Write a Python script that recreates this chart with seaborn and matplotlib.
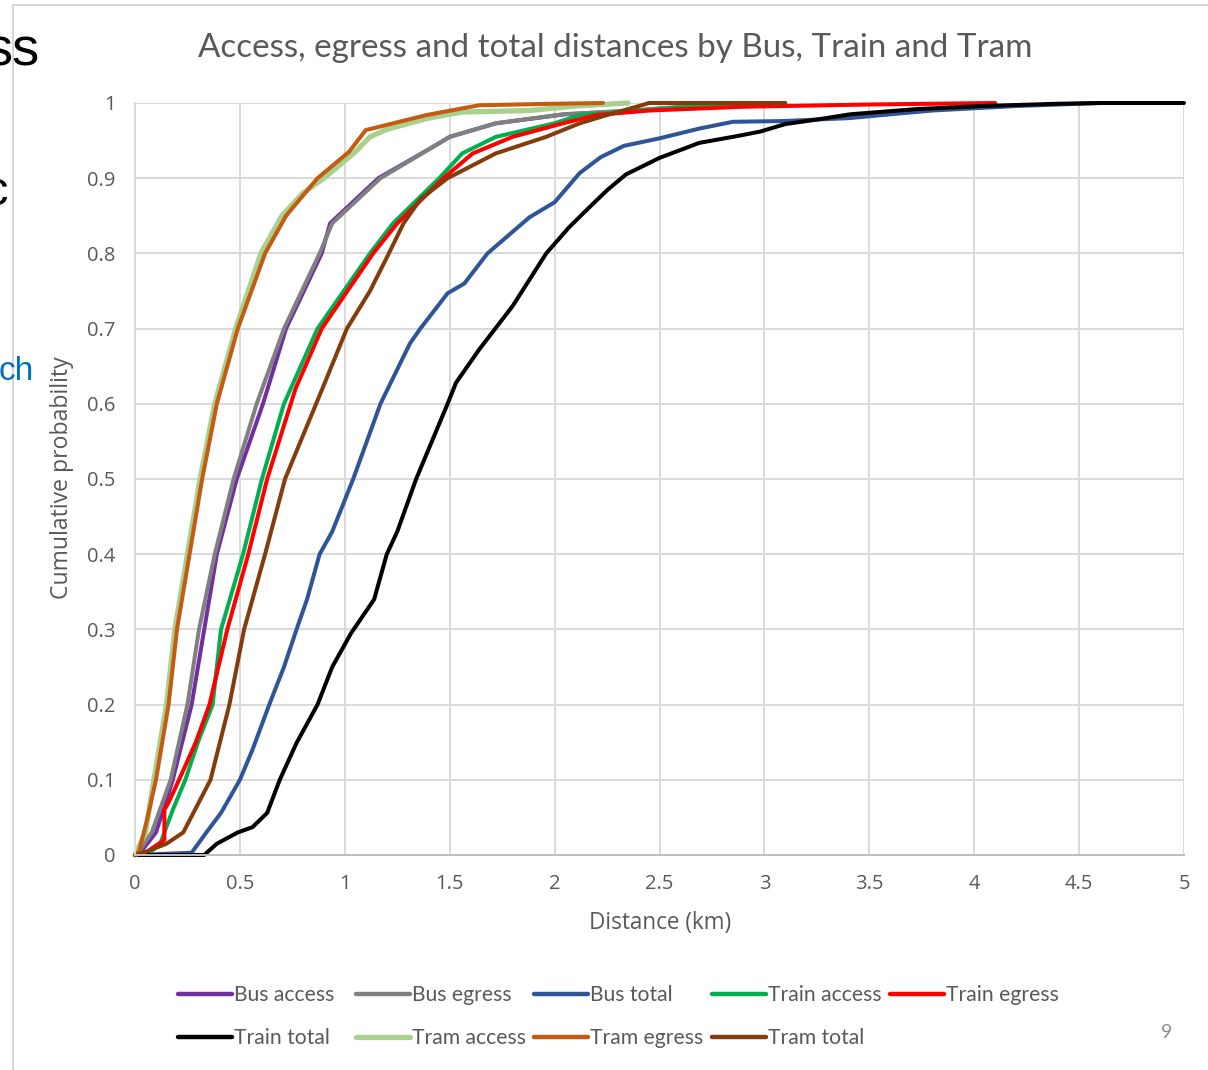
import numpy as np
import pandas as pd
import matplotlib
matplotlib.use("Agg")
import matplotlib.pyplot as plt
import matplotlib.font_manager as fm
from matplotlib.lines import Line2D
import seaborn as sns

# ---------------- data ----------------
title = "Access, egress and total distances by Bus, Train and Tram"
x_label = "Distance (km)"
y_label = "Cumulative probability"

series_names = ["Bus access", "Bus egress", "Bus total",
                "Train access", "Train egress", "Train total",
                "Tram access", "Tram egress", "Tram total"]
series_colors = ["#7030A0", "#808080", "#2F5597",
                 "#00B050", "#FF0000", "#000000",
                 "#A9D18E", "#C55A11", "#843C0C"]

bus_access_x = [0, 0.03, 0.10, 0.18, 0.27, 0.33, 0.39, 0.485, 0.61, 0.72, 0.89, 0.93, 1.16, 1.41, 1.50, 1.72, 2.05, 2.40, 2.70, 2.90]
bus_access_y = [0, 0.005, 0.03, 0.10, 0.20, 0.30, 0.40, 0.50, 0.60, 0.70, 0.80, 0.84, 0.90, 0.94, 0.955, 0.973, 0.985, 0.99, 0.996, 1.0]

bus_egress_x = [0, 0.02, 0.08, 0.17, 0.25, 0.305, 0.38, 0.47, 0.58, 0.71, 0.88, 0.94, 1.17, 1.41, 1.50, 1.72, 2.04, 2.36, 2.65, 2.85]
bus_egress_y = [0, 0.005, 0.03, 0.10, 0.20, 0.30, 0.40, 0.50, 0.60, 0.70, 0.80, 0.84, 0.90, 0.94, 0.955, 0.973, 0.985, 0.99, 0.996, 1.0]

bus_total_x = [0, 0.27, 0.34, 0.41, 0.50, 0.56, 0.64, 0.71, 0.77, 0.82, 0.88, 0.94, 1.04, 1.17, 1.31, 1.36, 1.49, 1.57, 1.68, 1.88,
               2.00, 2.12, 2.22, 2.33, 2.50, 2.69, 2.85, 3.09, 3.25, 3.41, 3.60, 3.80, 4.20, 4.60]
bus_total_y = [0, 0.003, 0.03, 0.056, 0.10, 0.14, 0.20, 0.25, 0.30, 0.34, 0.40, 0.43, 0.50, 0.60, 0.68, 0.70, 0.747, 0.76, 0.80, 0.848,
               0.868, 0.907, 0.928, 0.943, 0.953, 0.966, 0.975, 0.976, 0.978, 0.980, 0.985, 0.990, 0.996, 1.0]

train_access_x = [0, 0.07, 0.12, 0.18, 0.24, 0.30, 0.37, 0.41, 0.515, 0.605, 0.71, 0.87, 1.12, 1.23, 1.45, 1.56, 1.72, 2.00, 2.12, 2.40, 2.70, 2.95]
train_access_y = [0, 0.003, 0.015, 0.06, 0.10, 0.15, 0.20, 0.30, 0.40, 0.50, 0.60, 0.70, 0.80, 0.84, 0.90, 0.933, 0.955, 0.973, 0.984, 0.99, 0.996, 1.0]

train_egress_x = [0, 0.05, 0.14, 0.14, 0.16, 0.21, 0.29, 0.355, 0.44, 0.54, 0.63, 0.765, 0.89, 1.135, 1.25, 1.47, 1.61, 1.80, 2.04, 2.20, 2.45, 2.90, 3.50, 4.10]
train_egress_y = [0, 0.003, 0.02, 0.06, 0.07, 0.10, 0.15, 0.20, 0.30, 0.40, 0.50, 0.62, 0.70, 0.80, 0.84, 0.90, 0.933, 0.955, 0.973, 0.984, 0.99, 0.995, 0.998, 1.0]

train_total_x = [0, 0.33, 0.39, 0.49, 0.56, 0.63, 0.69, 0.77, 0.87, 0.94, 1.03, 1.14, 1.20, 1.25, 1.34, 1.40, 1.49, 1.53, 1.64, 1.80,
                 1.96, 2.07, 2.15, 2.25, 2.34, 2.50, 2.69, 2.87, 2.98, 3.10, 3.25, 3.41, 3.73, 4.04, 4.40, 4.60, 5.00]
train_total_y = [0, 0, 0.015, 0.03, 0.037, 0.056, 0.10, 0.149, 0.20, 0.25, 0.295, 0.34, 0.40, 0.43, 0.50, 0.54, 0.60, 0.628, 0.672, 0.73,
                 0.80, 0.835, 0.857, 0.884, 0.905, 0.927, 0.947, 0.956, 0.962, 0.972, 0.978, 0.985, 0.992, 0.996, 0.999, 1.0, 1.0]

tram_access_x = [0, 0.05, 0.09, 0.15, 0.19, 0.25, 0.31, 0.38, 0.48, 0.60, 0.70, 0.80, 0.90, 1.05, 1.12, 1.20, 1.40, 1.56, 1.88, 2.10, 2.35]
tram_access_y = [0, 0.03, 0.10, 0.20, 0.30, 0.40, 0.50, 0.60, 0.70, 0.80, 0.85, 0.88, 0.90, 0.935, 0.955, 0.965, 0.98, 0.988, 0.99, 0.996, 1.0]

tram_egress_x = [0, 0.02, 0.06, 0.10, 0.16, 0.20, 0.26, 0.32, 0.39, 0.45, 0.49, 0.62, 0.72, 0.87, 1.02, 1.10, 1.39, 1.64, 2.00, 2.23]
tram_egress_y = [0, 0.005, 0.05, 0.10, 0.20, 0.30, 0.40, 0.50, 0.60, 0.66, 0.70, 0.80, 0.85, 0.90, 0.935, 0.964, 0.984, 0.997, 0.999, 1.0]

tram_total_x = [0, 0.04, 0.15, 0.23, 0.36, 0.45, 0.52, 0.62, 0.715, 0.89, 1.01, 1.12, 1.21, 1.28, 1.36, 1.49, 1.72, 1.96, 2.12, 2.25, 2.39, 2.45, 3.10]
tram_total_y = [0, 0.003, 0.015, 0.03, 0.10, 0.20, 0.30, 0.40, 0.50, 0.618, 0.70, 0.75, 0.80, 0.84, 0.872, 0.90, 0.933, 0.955, 0.973, 0.984, 0.995, 1.0, 1.0]

x_ticks = [0, 0.5, 1, 1.5, 2, 2.5, 3, 3.5, 4, 4.5, 5]
x_tick_labels = ["0", "0.5", "1", "1.5", "2", "2.5", "3", "3.5", "4", "4.5", "5"]
y_ticks = [0, 0.1, 0.2, 0.3, 0.4, 0.5, 0.6, 0.7, 0.8, 0.9, 1.0]
y_tick_labels = ["0", "0.1", "0.2", "0.3", "0.4", "0.5", "0.6", "0.7", "0.8", "0.9", "1"]

slide_number = "9"

# ---------------- build table ----------------
xs = [bus_access_x, bus_egress_x, bus_total_x, train_access_x, train_egress_x,
      train_total_x, tram_access_x, tram_egress_x, tram_total_x]
ys = [bus_access_y, bus_egress_y, bus_total_y, train_access_y, train_egress_y,
      train_total_y, tram_access_y, tram_egress_y, tram_total_y]
frames = []
for name, xv, yv in zip(series_names, xs, ys):
    frames.append(pd.DataFrame({"distance": xv, "prob": yv, "series": name}))
df = pd.concat(frames, ignore_index=True)

# ---------------- style ----------------
sns.set_theme(style="white")
names = {f.name for f in fm.fontManager.ttflist}
axis_font = "Open Sans" if "Open Sans" in names else "DejaVu Sans"
cond_font = "Lato" if "Lato" in names else axis_font
plt.rcParams["font.family"] = [axis_font, "DejaVu Sans"]
text_gray = "#595959"
grid_gray = "#D9D9D9"

W, H = 1208, 1070
fig = plt.figure(figsize=(W / 100, H / 100), dpi=100)
fig.patch.set_facecolor("white")
renderer = fig.canvas.get_renderer()

def fx(px):
    return px / W

def fy(py):
    return 1 - py / H

def fit_width(txt, target_px, vertical=False):
    bb = txt.get_window_extent(renderer)
    cur = bb.height if vertical else bb.width
    txt.set_fontsize(txt.get_fontsize() * target_px / cur)

ax_l, ax_r, ax_t, ax_b = 135, 1184, 103, 855
ax = fig.add_axes([fx(ax_l), fy(ax_b), (ax_r - ax_l) / W, (ax_b - ax_t) / H])

palette = dict(zip(series_names, series_colors))
sns.lineplot(data=df, x="distance", y="prob", hue="series", hue_order=series_names,
             palette=palette, estimator=None, sort=False, units="series",
             legend=False, ax=ax, linewidth=2.9)

for line, name in zip(ax.lines, series_names):
    line.set_clip_on(False)
    line.set_solid_joinstyle("round")
    if name == "Tram access":
        line.set_linewidth(3.8)

ax.set_xlim(0, 5)
ax.set_ylim(0, 1)
ax.set_xticks(x_ticks)
ax.set_xticklabels(x_tick_labels)
ax.set_yticks(y_ticks)
ax.set_yticklabels(y_tick_labels)
ax.tick_params(axis="both", length=0, labelsize=14.5, labelcolor=text_gray)
ax.tick_params(axis="x", pad=14)
ax.tick_params(axis="y", pad=14)
ax.grid(True, color=grid_gray, linewidth=1.4)
ax.set_axisbelow(True)
for s in ["top", "right"]:
    ax.spines[s].set_visible(False)
ax.spines["left"].set_color(grid_gray)
ax.spines["left"].set_linewidth(1.4)
ax.spines["bottom"].set_color("#BFBFBF")
ax.spines["bottom"].set_linewidth(1.4)

ax.set_xlabel(x_label, fontsize=14, color=text_gray)
ax.set_ylabel(y_label, fontsize=14, color=text_gray)
fit_width(ax.xaxis.label, 143)
fit_width(ax.yaxis.label, 243, vertical=True)
ax.xaxis.set_label_coords((660 - ax_l) / (ax_r - ax_l), (ax_b - 923) / (ax_b - ax_t))
ax.xaxis.label.set_va("center")
ax.yaxis.set_label_coords((62 - ax_l) / (ax_r - ax_l), (ax_b - 478) / (ax_b - ax_t))
ax.yaxis.label.set_va("center")

t = fig.text(fx(615), fy(48), title, ha="center", va="center", fontsize=20,
             color=text_gray, family=[cond_font, "DejaVu Sans"])
fit_width(t, 834)

# legend: uniform column grid like the reference
leg_cols = [178, 356, 534, 712, 890]
leg_rows = [995, 1038]
for i, (name, col) in enumerate(zip(series_names, series_colors)):
    r, c = divmod(i, 5)
    h = Line2D([], [], color=col, linewidth=3.8 if name == "Tram access" else 3.2,
               solid_capstyle="round")
    fig.legend(handles=[h], labels=[name], loc="center left",
               bbox_to_anchor=(fx(leg_cols[c]), fy(leg_rows[r])),
               frameon=False, borderpad=0, borderaxespad=0, handlelength=2.55,
               handletextpad=0.12, prop={"family": cond_font, "size": 15.2},
               labelcolor=text_gray)

fig.text(fx(1167), fy(1032), slide_number, ha="center", va="center", fontsize=14,
         color="#8C8C8C", family=[cond_font, "DejaVu Sans"])

# slide border and cut-off slide text on the left
fig.add_artist(Line2D([fx(13), fx(13)], [fy(5), 0], color="#D0D0D0", linewidth=1.2))
fig.add_artist(Line2D([fx(13), 1], [fy(5), fy(5)], color="#D0D0D0", linewidth=1.2))
fig.text(fx(40), fy(65), "ss", ha="right", va="baseline", fontsize=39,
         color="black", family=["Liberation Sans", "DejaVu Sans"])
fig.text(fx(8), fy(205), "c", ha="right", va="baseline", fontsize=35,
         color="black", family=["Liberation Sans", "DejaVu Sans"])
fig.text(fx(34), fy(380), "ch", ha="right", va="baseline", fontsize=24,
         color="#0070C0", family=["Liberation Sans", "DejaVu Sans"])

fig.savefig("out.png", dpi=100, facecolor="white")
